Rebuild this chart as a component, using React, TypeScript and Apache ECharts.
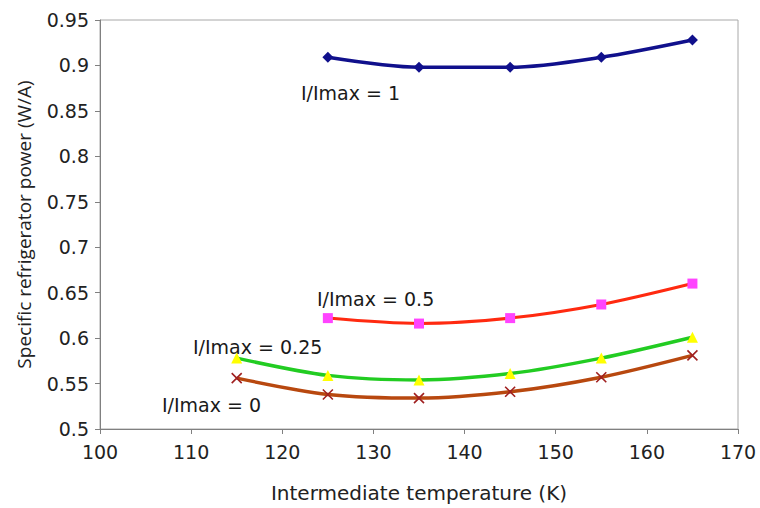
import React, { useEffect, useRef } from "react";
import * as echarts from "echarts";

const temps = [115, 125, 135, 145, 155, 165];
const s1 = [null, 0.909, 0.898, 0.898, 0.909, 0.928];
const s05 = [null, 0.622, 0.616, 0.622, 0.637, 0.66];
const s025 = [0.578, 0.559, 0.554, 0.561, 0.578, 0.601];
const s0 = [0.556, 0.538, 0.534, 0.541, 0.557, 0.581];
const seriesNames = ["I/Imax = 1", "I/Imax = 0.5", "I/Imax = 0.25", "I/Imax = 0"];
const xTitle = "Intermediate temperature (K)";
const yTitle = "Specific refrigerator power (W/A)";

const FONT = "DejaVu Sans";

function pairs(vals: (number | null)[]) {
  return temps.map((t, i) => [t, vals[i]]).filter((p) => p[1] !== null);
}

export default function App() {
  const ref = useRef<HTMLDivElement>(null);
  useEffect(() => {
    const chart = echarts.init(ref.current!, null, { renderer: "svg" });
    const xMark = "path://M0,0L10,10M10,0L0,10";
    const lbl = (text: string, x: number, y: number) => ({
      type: "text",
      x,
      y,
      style: { text, font: `19px ${FONT}`, fill: "#1a1a1a", verticalAlign: "middle" },
    });
    chart.setOption({
      animation: false,
      backgroundColor: "#fff",
      grid: { left: 100, right: 22, top: 20, bottom: 78, show: true, borderColor: "#a8a8a8", borderWidth: 1 },
      xAxis: {
        type: "value",
        min: 100,
        max: 170,
        interval: 10,
        name: xTitle,
        nameLocation: "middle",
        nameGap: 54,
        nameTextStyle: { fontFamily: FONT, fontSize: 20, color: "#222" },
        axisLine: { show: true, lineStyle: { color: "#808080" } },
        axisTick: { show: true, length: 5, lineStyle: { color: "#808080" } },
        axisLabel: { fontFamily: FONT, fontSize: 19, color: "#222", margin: 13 },
        splitLine: { show: false },
      },
      yAxis: {
        type: "value",
        min: 0.5,
        max: 0.95,
        interval: 0.05,
        name: yTitle,
        nameLocation: "middle",
        nameGap: 67,
        nameTextStyle: { fontFamily: "Open Sans", fontSize: 19, color: "#222" },
        axisLine: { show: true, lineStyle: { color: "#808080" } },
        axisTick: { show: true, length: 5, lineStyle: { color: "#808080" } },
        axisLabel: {
          fontFamily: FONT,
          fontSize: 19,
          color: "#222",
          margin: 11,
          formatter: (v: number) => String(parseFloat(v.toFixed(2))),
        },
        splitLine: { show: false },
      },
      series: [
        {
          name: seriesNames[0],
          type: "line",
          data: pairs(s1),
          smooth: 0.3,
          symbol: "diamond",
          symbolSize: 11,
          lineStyle: { color: "#10108c", width: 3.5 },
          itemStyle: { color: "#10108c" },
        },
        {
          name: seriesNames[1],
          type: "line",
          data: pairs(s05),
          smooth: 0.3,
          symbol: "rect",
          symbolSize: 10,
          lineStyle: { color: "#ff2a10", width: 3 },
          itemStyle: { color: "#ff44ff" },
          z: 3,
        },
        {
          name: seriesNames[2],
          type: "line",
          data: pairs(s025),
          smooth: 0.3,
          symbol: "triangle",
          symbolSize: 11,
          lineStyle: { color: "#22cc22", width: 3.5 },
          itemStyle: { color: "#ffff00" },
        },
        {
          name: seriesNames[3],
          type: "line",
          data: pairs(s0),
          smooth: 0.3,
          symbol: xMark,
          symbolSize: 10,
          lineStyle: { color: "#b8480f", width: 3.5 },
          itemStyle: { color: "none", borderColor: "#a02020", borderWidth: 1.6 },
        },
      ],
      graphic: [
        lbl(seriesNames[0], 301, 93),
        lbl(seriesNames[1], 317, 299),
        lbl(seriesNames[2], 193, 347),
        lbl(seriesNames[3], 162, 405),
      ],
    });
    return () => chart.dispose();
  }, []);
  return <div ref={ref} style={{ width: 760, height: 508, position: "absolute", left: 0, top: 0 }} />;
}
